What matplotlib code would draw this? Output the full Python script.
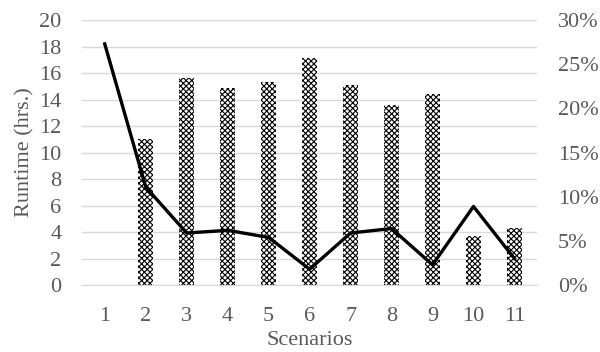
import matplotlib
matplotlib.use('Agg')
import matplotlib.pyplot as plt
from matplotlib.ticker import PercentFormatter

scenarios = [1, 2, 3, 4, 5, 6, 7, 8, 9, 10, 11]
runtime_hrs = [0, 11.0, 15.6, 14.9, 15.3, 17.1, 15.1, 13.6, 14.4, 3.7, 4.3]
share_pct = [27.3, 11.1, 5.9, 6.2, 5.4, 1.8, 5.9, 6.4, 2.3, 8.9, 3.0]

plt.rcParams['font.family'] = ['Liberation Serif', 'DejaVu Serif']
plt.rcParams['hatch.color'] = 'black'
plt.rcParams['hatch.linewidth'] = 0.8
text_color = '#595959'

fig = plt.figure(figsize=(6, 3.52), dpi=100)
ax = fig.add_axes([0.137, 0.19, 0.758, 0.753])
ax2 = ax.twinx()

ax.bar(scenarios, runtime_hrs, width=0.36, color='white', edgecolor='black',
       linewidth=0, hatch='xxxxxx', zorder=2)
ax2.plot(scenarios, share_pct, color='black', linewidth=2.4, zorder=3)

ax.set_ylim(0, 20)
ax.set_yticks(range(0, 21, 2))
ax.set_xlim(0.45, 11.55)
ax.set_xticks(scenarios)
ax2.set_ylim(0, 30)
ax2.set_yticks(range(0, 31, 5))
ax2.yaxis.set_major_formatter(PercentFormatter(decimals=0))

ax.grid(axis='y', color='#d9d9d9', linewidth=1, zorder=0)
ax.set_axisbelow(True)

for a in (ax, ax2):
    for s in a.spines.values():
        s.set_visible(False)
    a.tick_params(length=0, labelsize=16, colors=text_color)
ax.spines['bottom'].set_visible(True)
ax.spines['bottom'].set_color('#d9d9d9')
ax.tick_params(axis='y', pad=15)
ax2.tick_params(axis='y', pad=15)
ax.tick_params(axis='x', pad=16)

ax.set_ylabel('Runtime (hrs.)', fontsize=16, color=text_color, labelpad=3)
ax.set_xlabel('Scenarios', fontsize=16, color=text_color, labelpad=3)

fig.savefig('out.png', dpi=100)
